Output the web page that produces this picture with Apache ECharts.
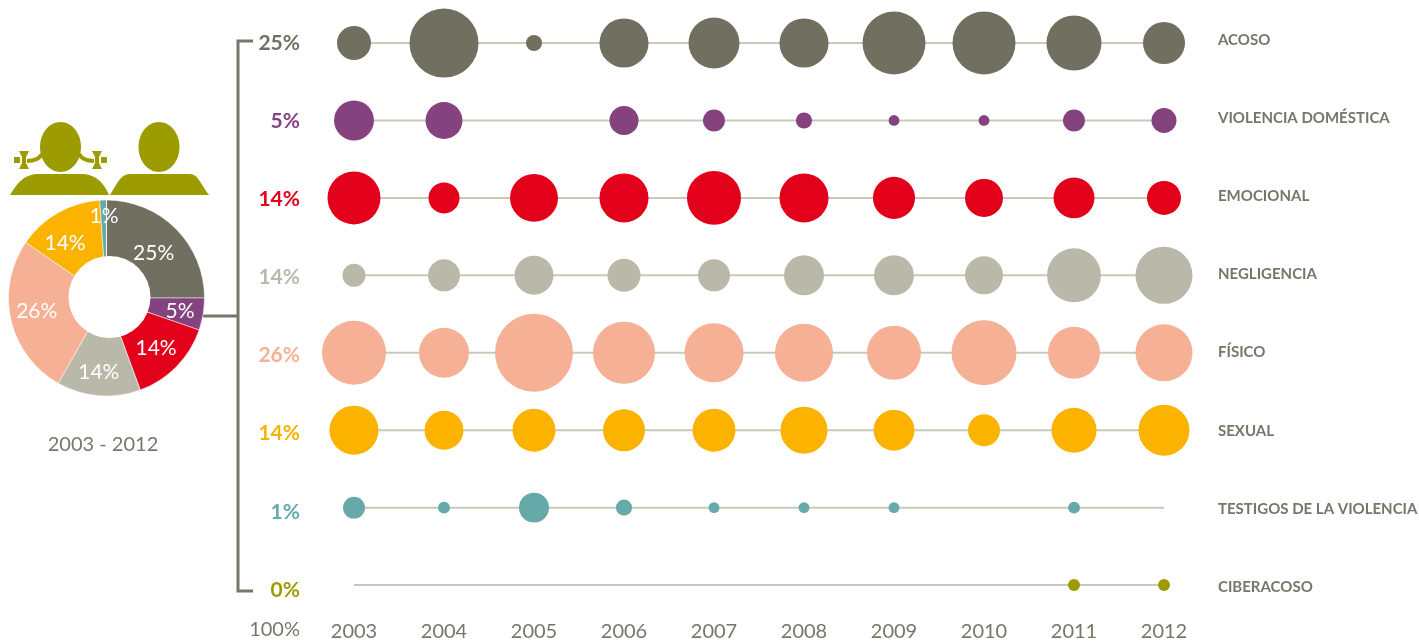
<!DOCTYPE html>
<html>
<head>
<meta charset="utf-8">
<style>
  html, body { margin: 0; padding: 0; background: #fff; }
  #main { width: 1419px; height: 641px; }
</style>
<script src="https://cdn.jsdelivr.net/npm/echarts@6/dist/echarts.min.js"></script>
</head>
<body>
<div id="main"></div>
<script>
var years = ['2003','2004','2005','2006','2007','2008','2009','2010','2011','2012'];
var categories = ['ACOSO','VIOLENCIA DOMÉSTICA','EMOCIONAL','NEGLIGENCIA','FÍSICO','SEXUAL','TESTIGOS DE LA VIOLENCIA','CIBERACOSO'];
var colors = ['#716f60','#84427f','#e2001a','#bab9a9','#f5b095','#fbb300','#66a9a9','#9c9b00'];
// reparto total 2003-2012 (porcentaje)
var totals = [25.0, 5.3, 14.1, 13.8, 26.4, 14.3, 1.1, 0];

var acoso = [8.9, 36.6, 2.0, 18.5, 20.0, 18.5, 30.5, 30.5, 23.3, 13.6];
var violencia = [12.3, 10.5, null, 6.5, 3.7, 2.0, 0.9, 0.9, 3.7, 4.8];
var emocional = [21.6, 7.4, 17.7, 18.5, 22.4, 18.5, 13.6, 11.1, 12.9, 8.9];
var negligencia = [4.1, 7.9, 11.7, 8.4, 7.9, 12.3, 12.3, 11.1, 22.4, 25.0];
var fisico = [31.5, 19.2, 46.8, 29.6, 26.8, 25.9, 22.4, 32.5, 20.8, 25.0];
var sexual = [18.5, 11.7, 14.2, 13.6, 14.2, 17.0, 12.9, 7.9, 15.6, 20.0];
var testigos = [3.7, 1.1, 6.9, 2.0, 0.9, 0.9, 0.9, null, 1.1, null];
var ciberacoso = [null, null, null, null, null, null, null, null, 1.1, 1.1];
var rows = [acoso, violencia, emocional, negligencia, fisico, sexual, testigos, ciberacoso];

var GREY = '#77766a';
var OLIVE = '#9c9b00';
var FONT = 'Lato, sans-serif';

// ajuste de las etiquetas dentro del anillo
var pieOffsets = [[-2, 4], [5, 2], [0, 2], [-2, 5], [-2, -2], [-7, 6], [0, -12], [0, 0]];

// cuerpos de los iconos
echarts.graphic.registerShape('cuerpoMujer', echarts.graphic.extendPath('M10 195C18 182 24 174 40 174L80 174C96 174 103 182 109 195Z', {}));
echarts.graphic.registerShape('cuerpoHombre', echarts.graphic.extendPath('M110 195C116 186 120 174 130 174L190 174C198 174 202 186 209 195Z', {}));

var chart = echarts.init(document.getElementById('main'));

var series = [];
categories.forEach(function (cat, c) {
    // linea de fondo de cada fila
    series.push({
        type: 'line',
        xAxisIndex: 0,
        yAxisIndex: 0,
        silent: true,
        symbol: 'none',
        z: 1,
        lineStyle: { color: c === 7 ? '#b5b5a5' : '#c9c9b9', width: c === 7 ? 1.5 : 2 },
        data: [[years[0], cat], [years[years.length - 1], cat]]
    });
    series.push({
        type: 'scatter',
        name: cat,
        xAxisIndex: 0,
        yAxisIndex: 0,
        z: 2,
        itemStyle: { color: colors[c], opacity: 1 },
        symbolSize: function (d) { return 11.4 * Math.sqrt(d[2]); },
        data: rows[c].map(function (v, i) { return [years[i], cat, v]; })
            .filter(function (d) { return d[2] !== null; })
    });
});

series.push({
    type: 'pie',
    center: [106.5, 298],
    radius: [35, 98],
    startAngle: 90,
    clockwise: true,
    silent: true,
    itemStyle: { borderColor: '#fff', borderWidth: 0.5 },
    labelLine: { show: false },
    label: {
        position: 'inside',
        color: '#fff',
        fontFamily: FONT,
        fontSize: 21,
        formatter: function (p) { return Math.round(p.value) + '%'; }
    },
    data: categories.map(function (cat, c) {
        var item = { name: cat, value: totals[c], itemStyle: { color: colors[c] }, label: { offset: pieOffsets[c] } };
        if (c === 7) item.label = { show: false };
        return item;
    })
});

chart.setOption({
    animation: false,
    backgroundColor: '#fff',
    tooltip: { show: false },
    grid: [
        { left: 309, top: 4.3, width: 900, height: 619.5, outerBoundsMode: 'none' },
        { left: 309, top: 3.9, width: 10, height: 625.1, outerBoundsMode: 'none' },
        { left: 1100, top: 1, width: 109, height: 625.1, outerBoundsMode: 'none' }
    ],
    xAxis: [
        {
            type: 'category',
            gridIndex: 0,
            data: years,
            axisLine: { show: false },
            axisTick: { show: false },
            axisLabel: { color: GREY, fontFamily: FONT, fontWeight: 400, fontSize: 20, margin: -2 }
        },
        { type: 'category', gridIndex: 1, show: false, data: years },
        { type: 'category', gridIndex: 2, show: false, data: years }
    ],
    yAxis: [
        {
            type: 'category',
            gridIndex: 0,
            inverse: true,
            data: categories,
            axisLine: { show: false },
            axisTick: { show: false },
            axisLabel: { show: false }
        },
        {
            // porcentajes de la izquierda
            type: 'category',
            gridIndex: 1,
            inverse: true,
            data: totals.map(function (v) { return Math.round(v) + '%'; }),
            axisLine: { show: false },
            axisTick: { show: false },
            axisLabel: {
                margin: 9,
                fontFamily: FONT,
                fontWeight: 'bold',
                fontSize: 21,
                color: function (value, index) { return colors[index]; }
            }
        },
        {
            // nombres de la derecha
            type: 'category',
            gridIndex: 2,
            position: 'right',
            inverse: true,
            data: categories,
            axisLine: { show: false },
            axisTick: { show: false },
            axisLabel: {
                margin: 9,
                color: GREY,
                fontFamily: FONT,
                fontWeight: 'bold',
                fontSize: 15
            }
        }
    ],
    graphic: [
        // corchete que une el anillo con las filas
        {
            type: 'polyline',
            shape: { points: [[253, 41], [238, 41], [238, 591], [253, 591]] },
            style: { stroke: GREY, lineWidth: 3, fill: null }
        },
        {
            type: 'line',
            shape: { x1: 203, y1: 316, x2: 238, y2: 316 },
            style: { stroke: GREY, lineWidth: 3 }
        },
        // hueco del anillo, algo desplazado
        { type: 'circle', z: 10, shape: { cx: 109.5, cy: 297, r: 41 }, style: { fill: '#fff' } },
        {
            type: 'text', x: 103, y: 445,
            style: { text: '2003 - 2012', fill: GREY, font: '400 20px ' + FONT, align: 'center', verticalAlign: 'middle' }
        },
        {
            type: 'text', x: 300, y: 630,
            style: { text: '100%', fill: GREY, font: '400 20px ' + FONT, align: 'right', verticalAlign: 'middle' }
        },
        // mujer
        { type: 'ellipse', shape: { cx: 60.5, cy: 147, rx: 20.5, ry: 25 }, style: { fill: OLIVE } },
        { type: 'cuerpoMujer', style: { fill: OLIVE } },
        { type: 'bezierCurve', shape: { x1: 42, y1: 154, cpx1: 38, cpy1: 161, x2: 27, y2: 161 }, style: { stroke: OLIVE, lineWidth: 4, fill: null } },
        { type: 'bezierCurve', shape: { x1: 79, y1: 154, cpx1: 83, cpy1: 161, x2: 94, y2: 161 }, style: { stroke: OLIVE, lineWidth: 4, fill: null } },
        { type: 'polygon', shape: { points: [[19, 151], [29, 151], [26, 157], [26, 163], [29, 169], [19, 169], [22, 163], [22, 157]] }, style: { fill: OLIVE } },
        { type: 'polygon', shape: { points: [[92, 151], [102, 151], [99, 157], [99, 163], [102, 169], [92, 169], [95, 163], [95, 157]] }, style: { fill: OLIVE } },
        { type: 'rect', shape: { x: 14, y: 157, width: 6, height: 6 }, style: { fill: OLIVE } },
        { type: 'rect', shape: { x: 101, y: 157, width: 6, height: 6 }, style: { fill: OLIVE } },
        // hombre
        { type: 'ellipse', shape: { cx: 159, cy: 147, rx: 20.5, ry: 25 }, style: { fill: OLIVE } },
        { type: 'cuerpoHombre', style: { fill: OLIVE } }
    ],
    series: series
});
</script>
</body>
</html>
